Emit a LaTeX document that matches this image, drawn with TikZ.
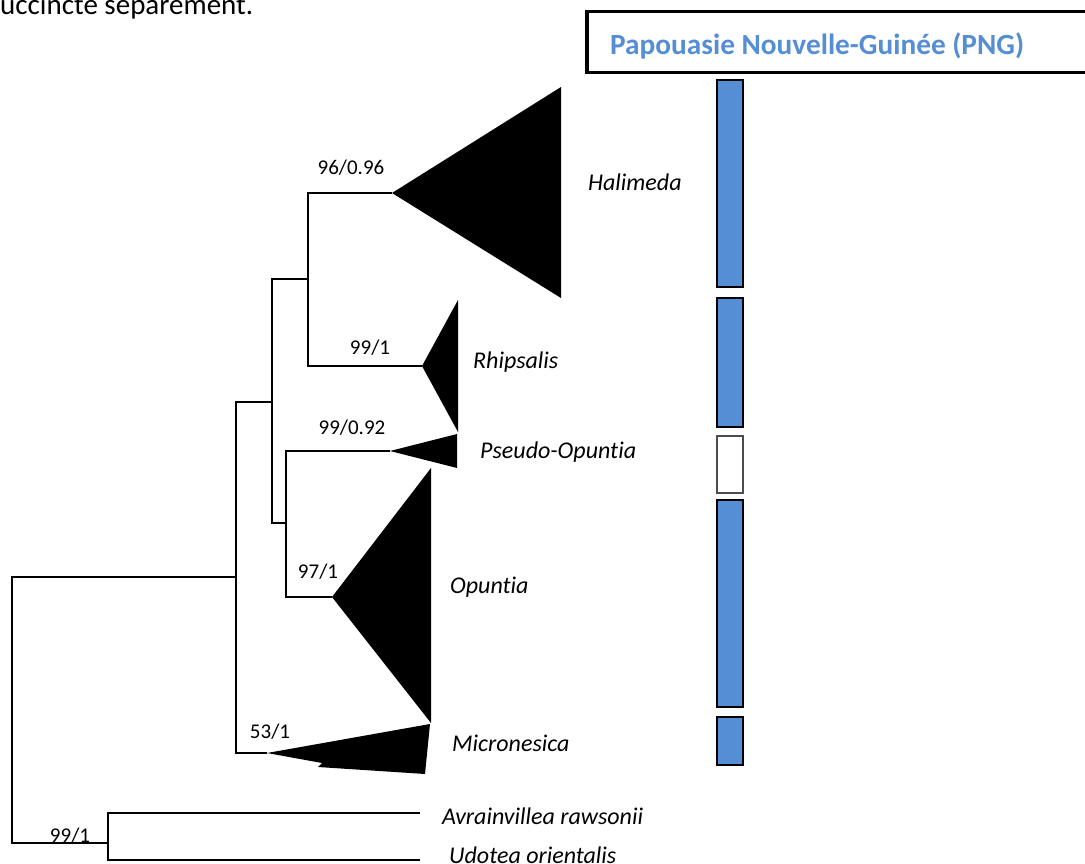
\documentclass[tikz,border=0pt]{standalone}
\usepackage{fontspec}
\setmainfont{Carlito}[Ligatures=NoCommon]
\definecolor{pngblue}{HTML}{558ED5}
\begin{document}
\begin{tikzpicture}[x=1pt,y=-1pt,
  branch/.style={line width=1.7pt},
  clade/.style={fill=black},
  taxon/.style={font=\fontsize{24}{28}\selectfont\itshape, anchor=base west, inner sep=0pt},
  support/.style={font=\fontsize{21}{25}\selectfont, anchor=base, inner sep=0pt},
  presbar/.style={draw=black, line width=2.2pt, fill=pngblue, inner sep=0pt, minimum width=26pt},
  absbar/.style={draw=black!70, line width=2.2pt, fill=white, inner sep=0pt, minimum width=26pt},
]
\useasboundingbox (0,0) rectangle (1085,864);
\clip (0,0) rectangle (1085,864);

% running text above the figure
\node[font=\fontsize{29}{33}\selectfont, anchor=base west, inner sep=0pt] (para) at (0,15) {uccincte séparément.};

% header box
\node[draw, line width=3.5pt, anchor=north west, minimum width=520pt, minimum height=61pt, inner sep=0pt] (hdr) at (585,10) {};
\node[font=\fontsize{29.3}{34}\selectfont\bfseries, text=pngblue, anchor=base west, inner sep=0pt] (hdrtxt) at (610,55) {Papouasie Nouvelle-Guinée (PNG)};

% internal nodes of the tree
\coordinate (root) at (12,700);
\coordinate (n1) at (236,577);
\coordinate (n2) at (272,402);
\coordinate (n3) at (308,279);
\coordinate (n4) at (286,523);
\coordinate (n5) at (108,843);

% clade apices and leaf ends
\coordinate (hal) at (392,193);
\coordinate (rhi) at (422,366);
\coordinate (pse) at (390,451);
\coordinate (opu) at (332,597);
\coordinate (mic) at (267,753);
\coordinate (avr) at (420,813);
\coordinate (udo) at (420,860);

% branches
\draw[branch] (n1) -| (root) |- (n5);
\draw[branch] (n2) -| (n1) |- (mic);
\draw[branch] (n3) -| (n2) |- (n4);
\draw[branch] (hal) -| (n3) |- (rhi);
\draw[branch] (pse) -| (n4) |- (opu);
\draw[branch] (avr) -| (n5) |- (udo);

% collapsed clades
\fill[clade] (hal) -- (561,87) -- (561,298) -- cycle;
\fill[clade] (rhi) -- (458,300) -- (458,432) -- cycle;
\fill[clade] (pse) -- (457,434) -- (457,468) -- cycle;
\fill[clade] (opu) -- (431,468) -- (431,723) -- cycle;
\fill[clade] (mic) -- (430,724) -- (425,774) -- (318,767) -- (322,763) -- cycle;

% support values
\node[support] (s1) at (351,175) {96/0.96};
\node[support] (s2) at (370,354) {99/1};
\node[support] (s3) at (352,434) {99/0.92};
\node[support] (s4) at (318,578) {97/1};
\node[support] (s5) at (270,738) {53/1};
\node[support] (s6) at (70,842) {99/1};

% taxon names
\node[taxon] (thal) at (588,190) {Halimeda};
\node[taxon] (trhi) at (473,368) {Rhipsalis};
\node[taxon] (tpse) at (480,458) {Pseudo-Opuntia};
\node[taxon] (topu) at (450,593) {Opuntia};
\node[taxon] (tmic) at (452,751) {Micronesica};
\node[taxon] (tavr) at (442,824) {Avrainvillea rawsonii};
\node[taxon] (tudo) at (449,863) {Udotea orientalis};

% presence bars
\node[presbar, minimum height=207pt] (bhal) at (730,183.5) {};
\node[presbar, minimum height=129pt] (brhi) at (730,362.5) {};
\node[absbar, minimum height=57pt] (bpse) at (730,464.5) {};
\node[presbar, minimum height=207pt] (bopu) at (730,603.5) {};
\node[presbar, minimum height=48pt] (bmic) at (730,741) {};
\end{tikzpicture}
\end{document}
